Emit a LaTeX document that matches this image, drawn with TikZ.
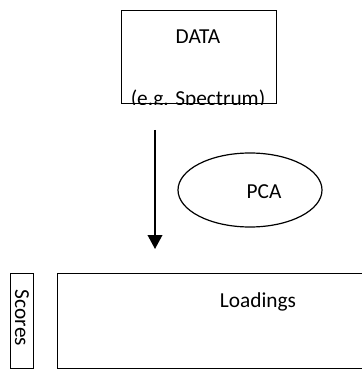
\documentclass[tikz,border=0pt]{standalone}
\usepackage{fontspec}
\setmainfont{Carlito}
\usetikzlibrary{arrows.meta,shapes.geometric}
\begin{document}
\begin{tikzpicture}[x=0.75pt,y=-0.75pt,
  box/.style={draw, line width=1.1pt, inner sep=0pt, anchor=north west},
  lbl/.style={font=\fontsize{16}{19}\selectfont, inner sep=0pt},
  flow/.style={line width=1.2pt, -{Triangle[width=11pt,length=10.5pt]}}]
\useasboundingbox (0,0) rectangle (361,370);
% input box with its caption clipped at the lower edge
\node[box, minimum width=116.25pt, minimum height=69.75pt] (data) at (121,10) {};
\node[lbl] (datatitle) at (198,37) {DATA};
\begin{scope}
  \clip (data.north west) rectangle (data.south east);
  \node[lbl, anchor=base] (datanote) at (198,106) {(e.g. Spectrum)};
\end{scope}
% decomposition step
\coordinate (flowtop) at (155,130);
\coordinate (flowend) at (155,249);
\draw[flow] (flowtop) -- (flowend);
\node[draw, ellipse, line width=0.9pt, minimum width=108pt, minimum height=55.5pt, inner sep=0pt] (pca) at (250,190) {};
\node[lbl] (pcatext) at (264,192) {PCA};
% results
\node[box, minimum width=17.25pt, minimum height=71.25pt] (scores) at (10,273) {};
\node[lbl, rotate=-90] (scorestext) at (22,318) {Scores};
\node[box, minimum width=231pt, minimum height=71.25pt] (loadings) at (57,273) {};
\node[lbl] (loadingstext) at (258,302) {Loadings};
\end{tikzpicture}
\end{document}
